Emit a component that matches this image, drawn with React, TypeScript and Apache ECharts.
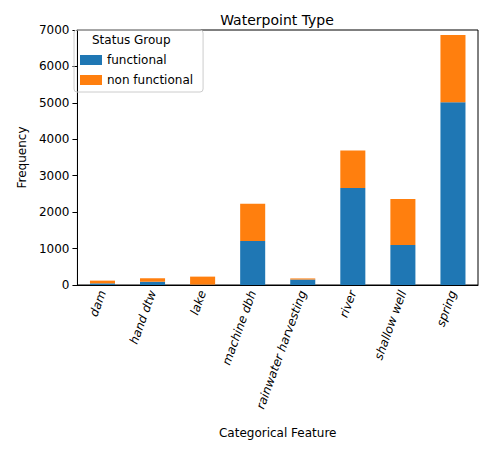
import React, { useEffect, useRef } from 'react';
import * as echarts from 'echarts';

const categories = ['dam', 'hand dtw', 'lake', 'machine dbh', 'rainwater harvesting', 'river', 'shallow well', 'spring'];
const functional = [45, 90, 10, 1210, 150, 2660, 1100, 5020];
const nonFunctional = [75, 95, 220, 1020, 30, 1030, 1260, 1840];

const App: React.FC = () => {
  const chartRef = useRef<HTMLDivElement>(null);

  useEffect(() => {
    const chart = echarts.init(chartRef.current, null, { renderer: 'svg' });
    const font = 'DejaVu Sans';
    chart.setOption({
      animation: false,
      textStyle: { fontFamily: font },
      title: {
        text: 'Waterpoint Type', left: 264, top: 0, textAlign: 'center',
        textStyle: { fontSize: 14, fontWeight: 'normal', color: '#000', fontFamily: font },
      },
      legend: {
        left: 66, top: 22, orient: 'vertical', itemWidth: 22, itemHeight: 10, itemGap: 8,
        padding: [24, 10, 6, 6], borderColor: '#ccc', borderWidth: 1, borderRadius: 3,
        textStyle: { fontSize: 12, color: '#000' },
        data: [{ name: 'functional', icon: 'rect' }, { name: 'non functional', icon: 'rect' }],
      },
      graphic: [{
        type: 'text', left: 84, top: 26,
        style: { text: 'Status Group', fontSize: 12, fill: '#000', fontFamily: font },
      }],
      grid: { left: 58, right: 6, top: 22, bottom: 150, show: true, borderColor: '#000', borderWidth: 1 },
      xAxis: {
        type: 'category', data: categories, name: 'Categorical Feature', nameLocation: 'middle', nameGap: 142,
        nameTextStyle: { fontSize: 12, color: '#000' },
        axisLine: { lineStyle: { color: '#000' } },
        axisTick: { alignWithLabel: true, lineStyle: { color: '#000' } },
        axisLabel: { rotate: 70, interval: 0, color: '#000', fontSize: 12, fontStyle: 'italic', margin: 6 },
      },
      yAxis: {
        type: 'value', min: 0, max: 7000, interval: 1000, name: 'Frequency', nameLocation: 'middle', nameGap: 44,
        nameTextStyle: { fontSize: 12, color: '#000' },
        axisLine: { show: true, lineStyle: { color: '#000' } },
        axisTick: { show: true, lineStyle: { color: '#000' } },
        axisLabel: { color: '#000', fontSize: 12, formatter: (v: number) => String(v) },
        splitLine: { show: false },
      },
      series: [
        { name: 'functional', type: 'bar', stack: 's', data: functional, barWidth: '50%', itemStyle: { color: '#1f77b4' } },
        { name: 'non functional', type: 'bar', stack: 's', data: nonFunctional, barWidth: '50%', itemStyle: { color: '#ff7f0e' } },
      ],
    });
    return () => chart.dispose();
  }, []);

  return <div ref={chartRef} style={{ width: '476px', height: '436px' }} />;
};

export default App;
